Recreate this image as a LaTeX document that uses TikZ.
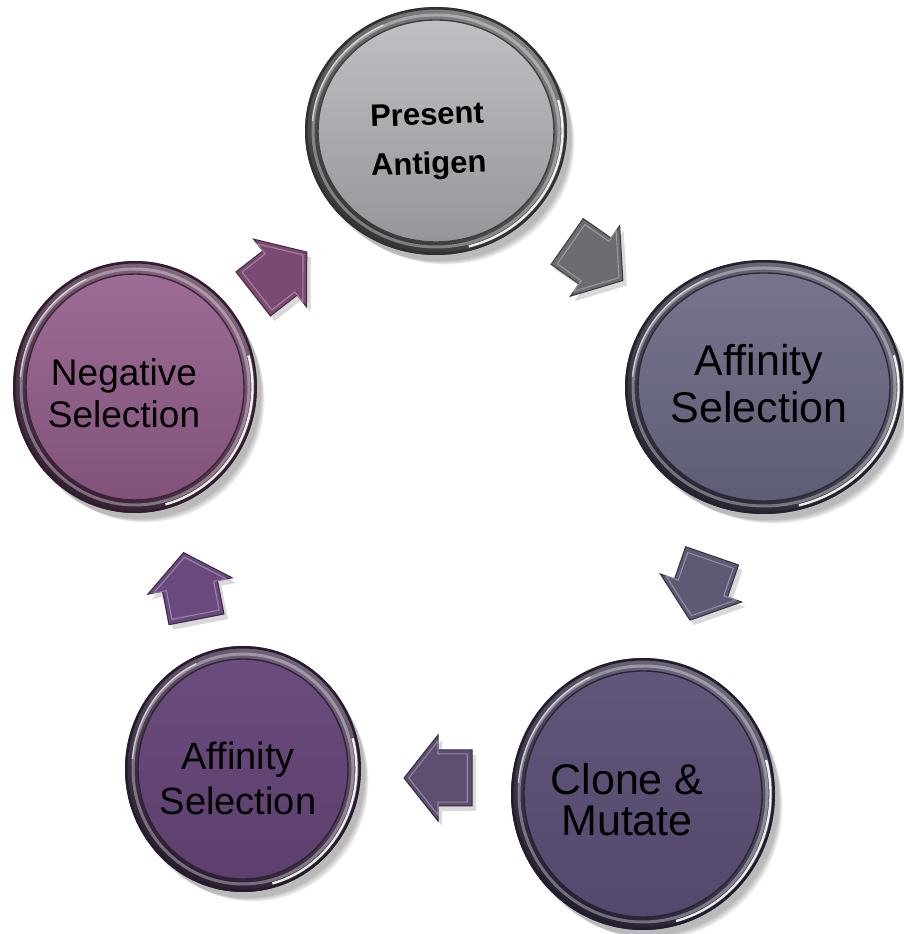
\documentclass[tikz,border=0pt]{standalone}
\usepackage{fontspec}
\setmainfont{Liberation Sans}
\usetikzlibrary{shapes.geometric}
\definecolor{rimA}{HTML}{5A5A5E}\definecolor{topA}{HTML}{C0C0C4}\definecolor{botA}{HTML}{96969A}
\definecolor{rimB}{HTML}{3F3E52}\definecolor{topB}{HTML}{76758D}\definecolor{botB}{HTML}{5E5D76}
\definecolor{rimC}{HTML}{3D3350}\definecolor{topC}{HTML}{615579}\definecolor{botC}{HTML}{55486E}
\definecolor{rimD}{HTML}{45304F}\definecolor{topD}{HTML}{6A4C7D}\definecolor{botD}{HTML}{5D3F6E}
\definecolor{rimE}{HTML}{5A3454}\definecolor{topE}{HTML}{9C6C94}\definecolor{botE}{HTML}{82537A}
\definecolor{arA}{HTML}{6C6C70}\definecolor{arB}{HTML}{7B4A72}\definecolor{arC}{HTML}{5C5A74}
\definecolor{arD}{HTML}{6A4A7E}\definecolor{arE}{HTML}{5D4E72}
\newcommand\bubble[8]{%
\begin{scope}[shift={(#2,#3)}]
  \foreach \k in {0,...,5}{\fill[black,opacity=0.05] (4+\k*1.3,-6-\k*1.3) ellipse [x radius={#4-\k*0.6}, y radius={#5-\k*0.6}];}
  \shade[top color=#6!75!white, bottom color=#6!60!black, shading angle=-30] (0,0) ellipse [x radius=#4, y radius=#5];
  \draw[#6!55!black, line width=2.5] (0,0) ellipse [x radius={#4-1.3}, y radius={#5-1.3}];
  \draw[white, line width=3, opacity=0.35] (0,0) ellipse [x radius={#4-8}, y radius={#5-8}];
  \draw[white, line width=2.4, opacity=0.9] (-75:{#4-4.5} and {#5-4.5}) arc [start angle=-75, end angle=15, x radius={#4-4.5}, y radius={#5-4.5}];
  \draw[white, line width=1.5, opacity=0.6] (115:{#4-7} and {#5-7}) arc [start angle=115, end angle=175, x radius={#4-7}, y radius={#5-7}];
  \node[ellipse, inner sep=0, minimum width={2*#4-26}, minimum height={2*#5-26},
        top color=#7, bottom color=#8, draw=#6!70!black, line width=1.4] (#1) at (0,0) {};
\end{scope}}
\tikzset{
  arrowshape/.pic={\path[pic actions] (-34,-28) -- (0,-28) -- (0,-43) -- (34,0) -- (0,43) -- (0,28) -- (-34,28) -- cycle;},
  lbl/.style={align=center, text=black, inner sep=0},
}
\newcommand\barrow[4]{%
  \pic[rotate=#3, fill=black, opacity=0.15] at (#1+4,#2-5) {arrowshape};
  \pic[rotate=#3, fill=#4, draw=#4!55!black, line width=1] at (#1,#2) {arrowshape};
  \pic[rotate=#3, scale=0.86, draw=#4!55!white, line width=1.1, opacity=0.7] at (#1,#2) {arrowshape};
}
\begin{document}
\begin{tikzpicture}[x=1pt,y=1pt]
\useasboundingbox (0,0) rectangle (903,934);
\bubble{pa}{436}{803}{131}{124}{rimA}{topA}{botA}
\bubble{asr}{764}{547}{139}{127}{rimB}{topB}{botB}
\bubble{cm}{643}{140}{132}{136}{rimC}{topC}{botC}
\bubble{asl}{243}{165}{118}{123}{rimD}{topD}{botD}
\bubble{ns}{135}{547}{122}{126}{rimE}{topE}{botE}
\node[lbl, font=\bfseries\fontsize{31}{49}\selectfont, rotate=2] (tpa) at (428,792) {Present\\Antigen};
\node[lbl, font=\fontsize{43}{47}\selectfont] (tasr) at (759,550) {Affinity\\Selection};
\node[lbl, font=\fontsize{43}{41}\selectfont] (tcm) at (627,134) {Clone \&\\Mutate};
\node[lbl, font=\fontsize{38}{45}\selectfont] (tasl) at (238,156) {Affinity\\Selection};
\node[lbl, font=\fontsize{37}{42}\selectfont] (tns) at (124,541) {Negative\\Selection};
\barrow{595}{673}{-35}{arA}
\barrow{701}{346}{-109}{arC}
\barrow{438}{156}{180}{arE}
\barrow{190}{348}{101}{arD}
\barrow{280}{661}{38}{arB}
\end{tikzpicture}
\end{document}
